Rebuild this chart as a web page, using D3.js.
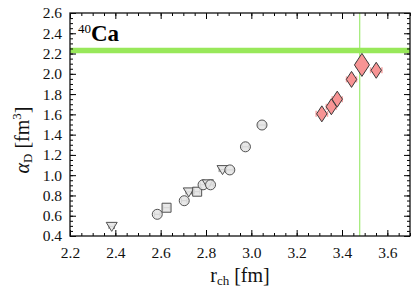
<!DOCTYPE html>
<html>
<head>
<meta charset="utf-8">
<script src="https://cdn.jsdelivr.net/npm/d3@7"></script>
<style>
  body { margin: 0; background: #fff; }
  text { font-family: "Liberation Serif", serif; }
</style>
</head>
<body>
<svg width="416" height="298" id="mainsvg"></svg>
<script>
// theory points (pink diamonds)
const thX    = [3.311, 3.353, 3.379, 3.442, 3.488, 3.551];
const thY    = [1.605, 1.675, 1.75, 1.945, 2.088, 2.035];
const thErr  = [0.025, 0.022, 0.022, 0.022, 0.025, 0.025];
const thBig  = [false, false, false, false, true, false];

// other points (grey)
const gX     = [2.384, 2.585, 2.626, 2.704, 2.724, 2.761, 2.787, 2.808, 2.82, 2.873, 2.905, 2.974, 3.047];
const gY     = [0.495, 0.614, 0.679, 0.748, 0.835, 0.837, 0.905, 0.915, 0.905, 1.055, 1.052, 1.28, 1.495];
const gErr   = [0.012, 0.012, 0.015, 0.012, 0.012, 0.012, 0.012, 0.012, 0.012, 0.015, 0.015, 0.015, 0.015];
const gShape = ["tri", "circ", "sq", "circ", "tri", "sq", "circ", "tri", "circ", "tri", "circ", "circ", "circ"];

// experimental reference
const expR = 3.478;
const expA = 2.23;

const xTicks = [2.2, 2.4, 2.6, 2.8, 3.0, 3.2, 3.4, 3.6];
const yTicks = [0.4, 0.6, 0.8, 1.0, 1.2, 1.4, 1.6, 1.8, 2.0, 2.2, 2.4, 2.6];

const svg = d3.select("#mainsvg");
const margin = {top: 13, right: 6, bottom: 62, left: 70};
const W = 416 - margin.left - margin.right;   // 340
const H = 298 - margin.top - margin.bottom;   // 223

const x = d3.scaleLinear().domain([2.2, 3.7]).range([0, W]);
const y = d3.scaleLinear().domain([0.4, 2.6]).range([H, 0]);

const g = svg.append("g").attr("transform", `translate(${margin.left},${margin.top})`);

// experiment lines
g.append("line")
  .attr("x1", x(expR)).attr("x2", x(expR))
  .attr("y1", 0).attr("y2", H)
  .attr("stroke", "#a6ec7e").attr("stroke-width", 1.3);
g.append("line")
  .attr("x1", 0).attr("x2", W)
  .attr("y1", y(expA)).attr("y2", y(expA))
  .attr("stroke", "#98e85a").attr("stroke-width", 5.5);

// axes with ticks inside, mirrored
const minorX = d3.range(2.2, 3.7001, 0.05);
const minorY = d3.range(0.4, 2.6001, 0.05);

function axisSet(axisFn, scale, ticks, minor, transform, showLabels) {
  const gg = g.append("g").attr("transform", transform);
  gg.call(axisFn(scale).tickValues(minor).tickSize(-3).tickFormat(""))
    .call(s => s.select(".domain").remove());
  const ga = g.append("g").attr("transform", transform);
  ga.call(axisFn(scale).tickValues(ticks).tickSize(-6).tickPadding(showLabels ? 12 : 0)
      .tickFormat(showLabels ? d3.format(".1f") : ""))
    .call(s => s.select(".domain").remove());
  ga.selectAll("text").attr("font-size", 15.5).attr("fill", "#111")
    .style("font-family", "'Liberation Serif', serif");
  return ga;
}
axisSet(d3.axisBottom, x, xTicks, minorX, `translate(0,${H})`, true)
  .selectAll("text").attr("dy", "0.95em").attr("transform", "translate(0,-5)");
axisSet(d3.axisLeft, y, yTicks, minorY, `translate(0,0)`, true)
  .selectAll("text").attr("dx", "4");
axisSet(d3.axisTop, x, xTicks, minorX, `translate(0,0)`, false);
axisSet(d3.axisRight, y, yTicks, minorY, `translate(${W},0)`, false);

g.append("rect").attr("width", W).attr("height", H)
  .attr("fill", "none").attr("stroke", "#111").attr("stroke-width", 1.3);

// grey error bars + markers
const greyData = gX.map((v, i) => ({x: v, y: gY[i], e: gErr[i], s: gShape[i]}));
const eb = g.append("g").attr("stroke", "#777").attr("stroke-width", 1);
greyData.forEach(d => {
  eb.append("line").attr("x1", x(d.x - d.e)).attr("x2", x(d.x + d.e))
    .attr("y1", y(d.y)).attr("y2", y(d.y));
  [d.x - d.e, d.x + d.e].forEach(v => eb.append("line")
    .attr("x1", x(v)).attr("x2", x(v)).attr("y1", y(d.y) - 2.5).attr("y2", y(d.y) + 2.5));
});
const symMap = {
  circ: "M-5,0A5,5 0 1,0 5,0A5,5 0 1,0 -5,0Z",
  sq: "M-4.5,-4.5H4.5V4.5H-4.5Z",
  tri: "M-5.5,-4H5.5L0,5Z"
};
g.append("g").selectAll("path").data(greyData).join("path")
  .attr("d", d => symMap[d.s])
  .attr("transform", d => `translate(${x(d.x)},${y(d.y)})`)
  .attr("fill", "#e4e4e4").attr("fill-opacity", 0.85)
  .attr("stroke", "#505050").attr("stroke-width", 1);

// pink diamonds
const thData = thX.map((v, i) => ({x: v, y: thY[i], e: thErr[i], big: thBig[i]}));
const pb = g.append("g").attr("stroke", "#f7a3a3").attr("stroke-width", 1.5);
thData.forEach(d => {
  pb.append("line").attr("x1", x(d.x - d.e)).attr("x2", x(d.x + d.e))
    .attr("y1", y(d.y)).attr("y2", y(d.y));
  [d.x - d.e, d.x + d.e].forEach(v => pb.append("line")
    .attr("x1", x(v)).attr("x2", x(v)).attr("y1", y(d.y) - 3).attr("y2", y(d.y) + 3));
});
g.append("g").selectAll("path").data(thData).join("path")
  .attr("d", d => d.big ? "M0,-11.5L7.5,0L0,11.5L-7.5,0Z" : "M0,-8L5.2,0L0,8L-5.2,0Z")
  .attr("transform", d => `translate(${x(d.x)},${y(d.y)})`)
  .attr("fill", "#f79494").attr("stroke", "#3a3a3a").attr("stroke-width", 1);

// nucleus label
const lab = g.append("text").attr("x", 8).attr("y", 28).attr("fill", "#000");
lab.append("tspan").attr("font-size", 13).attr("dy", -8).text("40");
lab.append("tspan").attr("font-size", 23).attr("font-weight", "bold").attr("dy", 8).text("Ca");

// axis titles
const xt = svg.append("text").attr("x", 240).attr("y", 282).attr("text-anchor", "middle")
  .attr("font-size", 20).attr("fill", "#111");
xt.append("tspan").text("r");
xt.append("tspan").attr("font-size", 13).attr("dy", 3).text("ch");
xt.append("tspan").attr("dy", -3).text(" [fm]");

const yt = svg.append("text").attr("transform", "translate(29,140) rotate(-90)")
  .attr("text-anchor", "middle").attr("font-size", 20).attr("fill", "#111");
yt.append("tspan").attr("font-style", "italic").text("α");
yt.append("tspan").attr("font-size", 13).attr("dy", 3).text("D");
yt.append("tspan").attr("dy", -3).text(" [fm");
yt.append("tspan").attr("font-size", 13).attr("dy", -8).text("3");
yt.append("tspan").attr("dy", 8).text("]");
</script>
</body>
</html>
